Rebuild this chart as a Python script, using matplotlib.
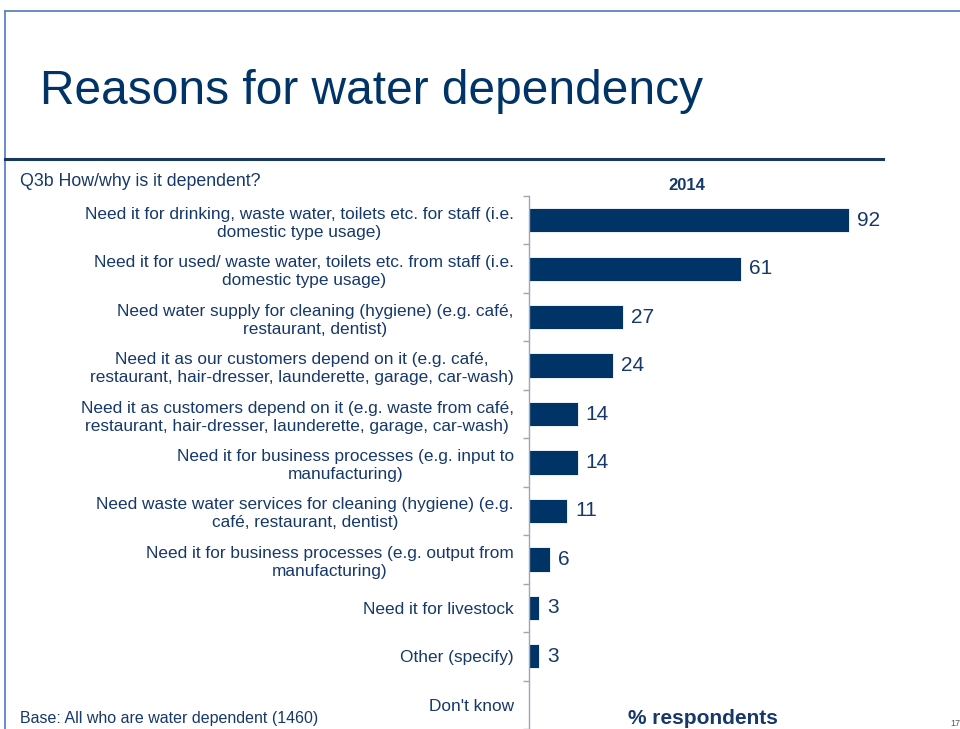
import numpy as np
import matplotlib.pyplot as plt
from matplotlib.lines import Line2D

plt.rcParams['font.family'] = ['Liberation Sans', 'DejaVu Sans']

# survey answers, top to bottom
reasons = [
    "Need it for drinking, waste water, toilets etc. for staff (i.e.\ndomestic type usage)",
    "Need it for used/ waste water, toilets etc. from staff (i.e.\ndomestic type usage)",
    "Need water supply for cleaning (hygiene) (e.g. café,\nrestaurant, dentist)",
    "Need it as our customers depend on it (e.g. café,\nrestaurant, hair-dresser, launderette, garage, car-wash)",
    "Need it as customers depend on it (e.g. waste from café,\nrestaurant, hair-dresser, launderette, garage, car-wash)",
    "Need it for business processes (e.g. input to\nmanufacturing)",
    "Need waste water services for cleaning (hygiene) (e.g.\ncafé, restaurant, dentist)",
    "Need it for business processes (e.g. output from\nmanufacturing)",
    "Need it for livestock",
    "Other (specify)",
    "Don't know",
]
pct_2014 = [92, 61, 27, 24, 14, 14, 11, 6, 3, 3, None]

navy = '#003366'
text_col = '#17386a'
W, H = 960, 729

fig = plt.figure(figsize=(W / 100, H / 100), dpi=100)

def fx(px):
    return px / W

def fy(py):
    return 1 - py / H

# slide frame and title rule
fig.add_artist(Line2D([fx(5), 1], [fy(11), fy(11)], color='#5b84c4', lw=1.3))
fig.add_artist(Line2D([fx(5), fx(5)], [fy(11), 0], color='#5b84c4', lw=1.3))
fig.add_artist(Line2D([fx(5), fx(883)], [fy(159), fy(159)], color='#17375e', lw=2.2))

fig.text(fx(40), fy(91), "Reasons for water dependency", fontsize=34.5,
         color=navy, va='center', ha='left')
fig.text(fx(20), fy(181), "Q3b How/why is it dependent?", fontsize=12.8,
         color=text_col, va='center', ha='left')
fig.text(fx(687), fy(185), "2014", fontsize=12, fontweight='bold',
         color=text_col, va='center', ha='center')
fig.text(fx(20), fy(719), "Base: All who are water dependent (1460)", fontsize=11.5,
         color=text_col, va='center', ha='left')
fig.text(fx(703), fy(719), "% respondents", fontsize=15, fontweight='bold',
         color=text_col, va='center', ha='center')
fig.text(fx(955), fy(723), "17", fontsize=6.5, color='#555555',
         va='center', ha='center')

ax = fig.add_axes([fx(529), 0, fx(877) - fx(529), fy(196)])
n = len(reasons)
ypos = np.arange(n)
vals = [v if v is not None else 0 for v in pct_2014]
ax.barh(ypos, vals, height=0.5, color=navy, edgecolor='white', linewidth=0.6)
for y, v in zip(ypos, pct_2014):
    if v is not None:
        ax.text(v + 2.3, y, str(v), fontsize=15, color=text_col,
                va='center', ha='left')

ax.set_xlim(0, 100)
ax.set_ylim(n - 0.5, -0.5)
ax.set_yticks(ypos)
ax.set_yticklabels(reasons, fontsize=12.4, color=text_col)
for t in ax.get_yticklabels():
    t.set_multialignment('center')
    t.set_linespacing(1.25)
ax.set_yticks(np.arange(n + 1) - 0.5, minor=True)
ax.tick_params(axis='y', which='major', length=0, pad=11)
ax.tick_params(axis='y', which='minor', length=4, color='#a0a4b8', width=1)
ax.set_xticks([])
for s in ['top', 'right', 'bottom']:
    ax.spines[s].set_visible(False)
ax.spines['left'].set_color('#a0a4b8')
ax.spines['left'].set_linewidth(1)

fig.savefig('out.png', dpi=100)
